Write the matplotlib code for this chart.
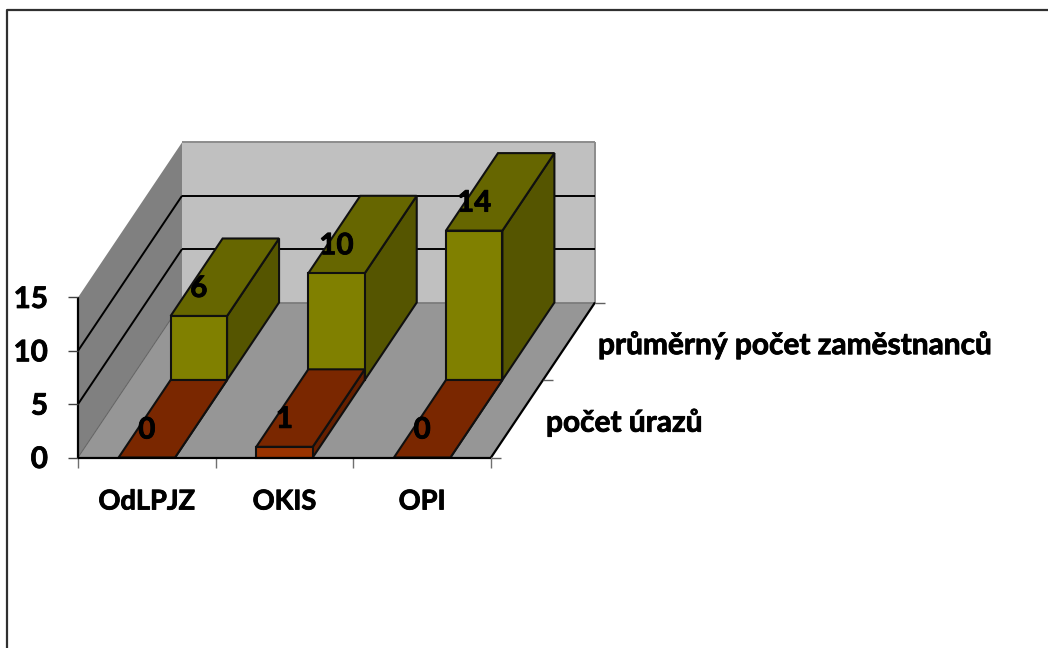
import matplotlib
matplotlib.use("Agg")
import matplotlib.pyplot as plt
from matplotlib.patches import Polygon
import matplotlib.patheffects as pe

categories = ["OdLPJZ", "OKIS", "OPI"]
series_names = ["počet úrazů", "průměrný počet zaměstnanců"]
injuries = [0, 1, 0]
employees = [6, 10, 14]
value_ticks = [0, 5, 10, 15]

plt.rcParams['font.family'] = ['Lato', 'DejaVu Sans']
FS = 19.6
FS_BIG = 21.3
HEAVY = [pe.withStroke(linewidth=0.6, foreground='black')]

fig = plt.figure(figsize=(10.48, 6.48), dpi=100)
ax = fig.add_axes([0, 0, 1, 1])
ax.set_xlim(0, 1048)
ax.set_ylim(648, 0)
ax.axis('off')

# oblique projection of chart coordinates (category, value, depth) to the canvas
X0, Y0 = 78, 457.5
CAT_W = 137.67
UNIT = 10.67
DX, DY = 104, 155
VMAX = value_ticks[-1]
NCAT = len(categories)
NSER = len(series_names)
HALF_W = 0.205


def P(c, v, d):
    return (X0 + c * CAT_W + d * DX, Y0 - v * UNIT - d * DY)


def face(pts, color, z, ec='none', lw=0):
    ax.add_patch(Polygon(pts, closed=True, fc=color, ec=ec, lw=lw, zorder=z, joinstyle='miter'))


def line(a, b, color='black', lw=1.5, z=3):
    ax.plot([a[0], b[0]], [a[1], b[1]], color=color, lw=lw, zorder=z, solid_capstyle='butt')


def label(x, y, s, size, ha='center', z=10):
    ax.text(x, y, s, ha=ha, va='center', fontsize=size, fontweight='bold',
            color='black', zorder=z, path_effects=HEAVY)


# outer chart frame (only top and left edges fall inside the picture)
ax.plot([6.5, 6.5, 1048], [648, 9.5, 9.5], color='#303030', lw=1.6, zorder=1)

# walls and floor
face([P(0, 0, 1), P(NCAT, 0, 1), P(NCAT, VMAX, 1), P(0, VMAX, 1)], '#C0C0C0', 2)
face([P(0, 0, 0), P(0, 0, 1), P(0, VMAX, 1), P(0, VMAX, 0)], '#808080', 2)
face([P(0, 0, 0), P(NCAT, 0, 0), P(NCAT, 0, 1), P(0, 0, 1)], '#969696', 2)
line(P(0, VMAX, 1), P(NCAT, VMAX, 1), '#8C8C8C', 1.4)
line(P(NCAT, 0, 1), P(NCAT, VMAX, 1), '#8C8C8C', 1.4)
line(P(0, 0, 1), P(NCAT, 0, 1), '#7A7A7A', 1.2)
line(P(0, 0, 0), P(0, 0, 1), '#606060', 0.7)

# gridlines on the walls
for v in value_ticks[1:-1]:
    line(P(0, v, 0), P(0, v, 1), 'black', 1.4)
    line(P(0, v, 1), P(NCAT, v, 1), 'black', 1.4)

# axes lines and ticks
line(P(0, 0, 0), P(0, VMAX, 0), 'black', 1.6, 3)
line(P(0, 0, 0), P(NCAT, 0, 0), 'black', 1.6, 8)
line(P(NCAT, 0, 0), P(NCAT, 0, 1), 'black', 1.6, 3)
for v in value_ticks:
    a = P(0, v, 0)
    line((a[0] - 10, a[1]), a, '#404040', 1.0)
    label(a[0] - 30, a[1] + 1.5, str(v), FS_BIG, ha='right')
for i in range(NCAT + 1):
    a = P(i, 0, 0)
    line(a, (a[0], a[1] + 10), '#707070', 1.0)
for s in range(NSER + 1):
    a = P(NCAT, 0, s / NSER)
    line(a, (a[0] + 10, a[1]), '#606060', 1.0)

# bars, from the back row to the front row
rows = [(injuries, '#993300', '#7A2700', '#662000'),
        (employees, '#808000', '#666600', '#555500')]
for s in reversed(range(NSER)):
    vals, front, top, side = rows[s]
    d0, d1 = s / NSER, (s + 1) / NSER
    for i, v in enumerate(vals):
        c0, c1 = i + 0.5 - HALF_W, i + 0.5 + HALF_W
        z = 4 + (NSER - s)
        kw = dict(ec='#101010', lw=1.5)
        face([P(c1, 0, d0), P(c1, 0, d1), P(c1, v, d1), P(c1, v, d0)], side, z, **kw)
        face([P(c0, v, d0), P(c1, v, d0), P(c1, v, d1), P(c0, v, d1)], top, z, **kw)
        if v > 0:
            face([P(c0, 0, d0), P(c1, 0, d0), P(c1, v, d0), P(c0, v, d0)], front, z, **kw)
        lx, ly = P(i + 0.5, v, d0)
        label(lx, ly - 28, str(v), FS_BIG)

# category labels
for i, name in enumerate(categories):
    x, y = P(i + 0.5, 0, 0)
    label(x, y + 44, name, FS)

# series labels along the depth axis
for s, name in enumerate(series_names):
    x, y = P(NCAT, 0, (s + 0.5) / NSER)
    label(x + 29, y + 3.5, name, FS_BIG + 0.2, ha='left')

fig.savefig("out.png", dpi=100, facecolor='white')
